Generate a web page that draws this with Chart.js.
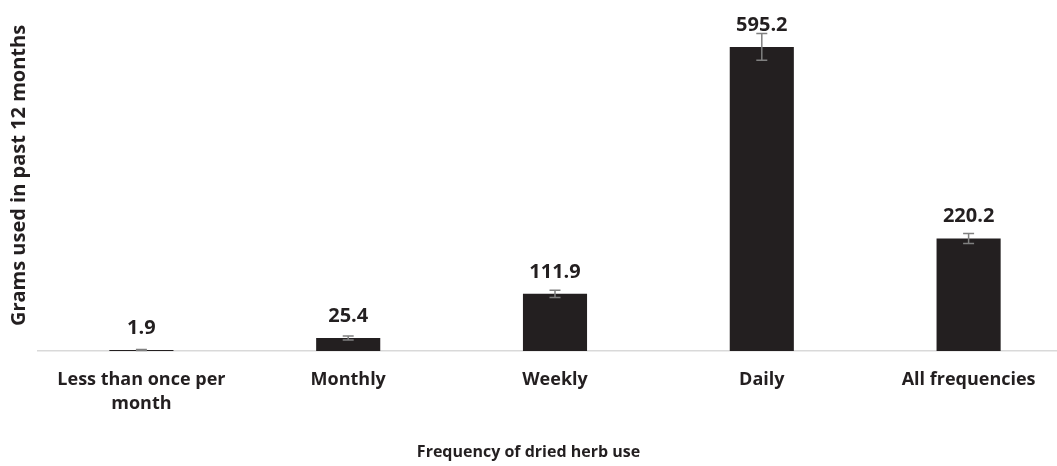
<!DOCTYPE html>
<html>
<head>
<meta charset="utf-8">
<script src="https://cdn.jsdelivr.net/npm/chart.js@4/dist/chart.umd.min.js"></script>
<style>
  html, body { margin: 0; padding: 0; background: #fff; overflow: hidden; }
  #wrap { position: relative; width: 1072px; height: 466px; }
  #xTitle {
    position: absolute; left: 0; width: 1057px; top: 440px;
    text-align: center; font: bold 16px "Open Sans", sans-serif; color: #231f20;
  }
</style>
</head>
<body>
<div id="wrap">
  <canvas id="jsChart" width="1072" height="466"></canvas>
  <div id="xTitle">Frequency of dried herb use</div>
</div>
<script>
const categories = [['Less than once per', 'month'], 'Monthly', 'Weekly', 'Daily', 'All frequencies'];
const grams = [1.9, 25.4, 111.9, 595.2, 220.2];
const errors = [1, 4, 7, 26, 10];

const barColor = '#231f20';

// error bars + value labels on top of each bar
const barExtras = {
  id: 'barExtras',
  afterDatasetsDraw(chart) {
    const ctx = chart.ctx;
    const y = chart.scales.y;
    const meta = chart.getDatasetMeta(0);
    ctx.save();
    meta.data.forEach((bar, i) => {
      const top = y.getPixelForValue(grams[i] + errors[i]);
      const bot = y.getPixelForValue(grams[i] - errors[i]);
      ctx.strokeStyle = '#808080';
      ctx.lineWidth = 1.5;
      ctx.beginPath();
      ctx.moveTo(bar.x, top);
      ctx.lineTo(bar.x, bot);
      ctx.moveTo(bar.x - 5.5, top);
      ctx.lineTo(bar.x + 5.5, top);
      ctx.moveTo(bar.x - 5.5, bot);
      ctx.lineTo(bar.x + 5.5, bot);
      ctx.stroke();

      ctx.fillStyle = barColor;
      ctx.font = 'bold 20px "Open Sans"';
      ctx.textAlign = 'center';
      ctx.textBaseline = 'alphabetic';
      ctx.fillText(grams[i].toFixed(1), bar.x, bar.y - 16);
    });
    ctx.restore();
  }
};

new Chart(document.getElementById('jsChart'), {
  type: 'bar',
  data: {
    labels: categories,
    datasets: [{
      data: grams,
      backgroundColor: barColor,
      barPercentage: 0.31,
      categoryPercentage: 1,
    }],
  },
  options: {
    responsive: false,
    animation: false,
    maintainAspectRatio: false,
    layout: { padding: { top: 0, right: 0, left: 0, bottom: 0 } },
    plugins: {
      legend: { display: false },
      tooltip: { enabled: false },
    },
    scales: {
      x: {
        grid: { display: false, drawTicks: false },
        border: { color: '#d9d9d9', width: 1.5 },
        ticks: {
          color: barColor,
          padding: 17,
          maxRotation: 0,
          autoSkip: false,
          font: { family: 'Open Sans', size: 18, weight: 'bold', lineHeight: 1.33 },
        },
        afterFit(scale) { scale.height = 115; },
      },
      y: {
        min: 0,
        max: 687,
        grid: { display: false, drawTicks: false },
        border: { display: false },
        ticks: { display: false },
        title: {
          display: true,
          text: 'Grams used in past 12 months',
          color: barColor,
          padding: { top: 7, bottom: 0 },
          font: { family: 'Open Sans', size: 20, weight: 'bold' },
        },
        afterFit(scale) { scale.width = 38; },
      },
    },
  },
  plugins: [barExtras],
});
</script>
</body>
</html>
